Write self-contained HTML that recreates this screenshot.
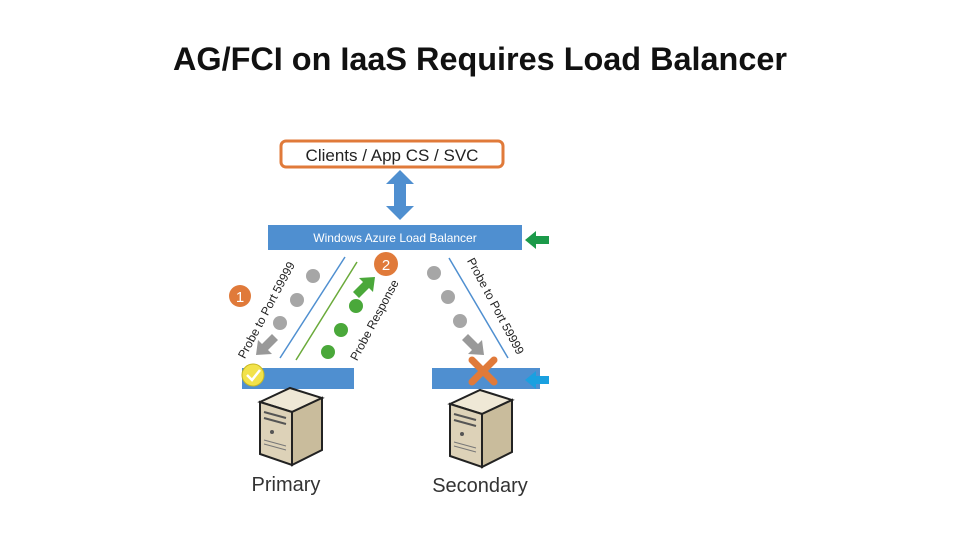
<!DOCTYPE html>
<html><head><style>body{margin:0;background:#fff}svg{display:block}</style></head><body>
<svg width="960" height="540" xmlns="http://www.w3.org/2000/svg" font-family="Liberation Sans, sans-serif">
<text x="480" y="70" text-anchor="middle" font-size="32.5" font-weight="bold" fill="#111" textLength="614" lengthAdjust="spacingAndGlyphs">AG/FCI on IaaS Requires Load Balancer</text>
<rect x="281" y="141" width="222" height="26" rx="5" fill="#fff" stroke="#e07a3a" stroke-width="3"/>
<text x="392" y="161" text-anchor="middle" font-size="17" fill="#222">Clients / App CS / SVC</text>
<polygon points="400,170 414,184 406,184 406,206 414,206 400,220 386,206 394,206 394,184 386,184" fill="#4f8fd0"/>
<rect x="268" y="225" width="254" height="25" fill="#4f8fd0"/>
<text x="395" y="242" text-anchor="middle" font-size="12" fill="#fff">Windows Azure Load Balancer</text>
<polygon points="525,240 536,231 536,236 549,236 549,244 536,244 536,249" fill="#1c9a4a"/>
<rect x="242" y="368" width="112" height="21" fill="#4f8fd0"/>
<rect x="432" y="368" width="108" height="21" fill="#4f8fd0"/>
<polygon points="525,380 536,371 536,376 549,376 549,384 536,384 536,389" fill="#1aa0e0"/>
<line x1="345" y1="257" x2="280" y2="358" stroke="#4f8fd0" stroke-width="1.5"/>
<line x1="296" y1="360" x2="357" y2="262" stroke="#6aaa3a" stroke-width="1.5"/>
<line x1="449" y1="258" x2="508" y2="358" stroke="#4f8fd0" stroke-width="1.5"/>
<g fill="#a6a6a6"><circle cx="313" cy="276" r="7"/><circle cx="297" cy="300" r="7"/><circle cx="280" cy="323" r="7"/><circle cx="434" cy="273" r="7"/><circle cx="448" cy="297" r="7"/><circle cx="460" cy="321" r="7"/></g>
<g fill="#4aa83a"><circle cx="328" cy="352" r="7"/><circle cx="341" cy="330" r="7"/><circle cx="356" cy="306" r="7"/></g>
<polygon points="256,355 258,340 262,344 272,334 278,340 268,350 272,354" fill="#999"/>
<polygon points="484,355 482,340 478,344 468,334 462,340 472,350 468,354" fill="#999"/>
<polygon points="375,277 373,292 369,288 359,298 353,292 363,282 359,278" fill="#4aa83a"/>
<circle cx="240" cy="296" r="11" fill="#e07a3a"/><text x="240" y="302" text-anchor="middle" font-size="15" fill="#fff">1</text>
<circle cx="386" cy="264" r="12" fill="#e07a3a"/><text x="386" y="270" text-anchor="middle" font-size="15" fill="#fff">2</text>
<text transform="translate(270,312) rotate(-62)" text-anchor="middle" font-size="12" fill="#222">Probe to Port 59999</text>
<text transform="translate(378,322) rotate(-62)" text-anchor="middle" font-size="12" fill="#222">Probe Response</text>
<text transform="translate(492,308) rotate(62)" text-anchor="middle" font-size="12" fill="#222">Probe to Port 59999</text>
<circle cx="253" cy="375" r="11" fill="#f2e24a" stroke="#c8b820"/><polyline points="247,375 252,380 260,370" fill="none" stroke="#fff" stroke-width="2.5"/>
<g stroke="#e07a3a" stroke-width="7" stroke-linecap="round"><line x1="472" y1="360" x2="494" y2="382"/><line x1="494" y1="360" x2="472" y2="382"/></g>
<g id="srv">
<polygon points="260,402 290,388 322,398 292,412" fill="#efe8d6" stroke="#222" stroke-width="2"/>
<polygon points="260,402 292,412 292,465 260,454" fill="#ddd2b8" stroke="#222" stroke-width="2"/>
<polygon points="292,412 322,398 322,450 292,465" fill="#c9bc9c" stroke="#222" stroke-width="2"/>
<line x1="264" y1="412" x2="286" y2="418" stroke="#555" stroke-width="2"/>
<line x1="264" y1="418" x2="286" y2="424" stroke="#555" stroke-width="2"/>
<circle cx="272" cy="432" r="2" fill="#555"/>
<line x1="264" y1="440" x2="286" y2="446" stroke="#777"/><line x1="264" y1="444" x2="286" y2="450" stroke="#777"/>
</g>
<use href="#srv" transform="translate(190,2)"/>
<text x="286" y="491" text-anchor="middle" font-size="20" fill="#333">Primary</text>
<text x="480" y="492" text-anchor="middle" font-size="20" fill="#333">Secondary</text>
</svg>
</body></html>
